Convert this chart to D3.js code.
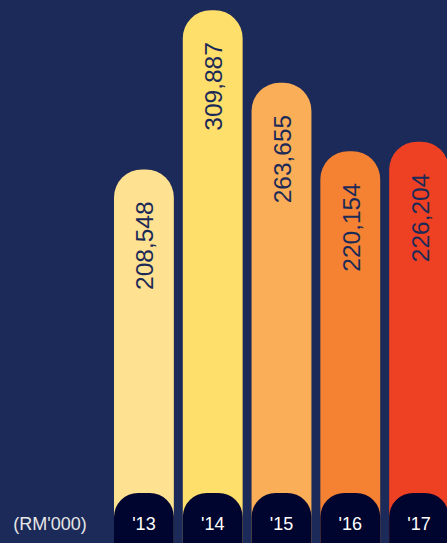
<!DOCTYPE html>
<html>
<head>
<meta charset="utf-8">
<script src="https://cdn.jsdelivr.net/npm/d3@7"></script>
<style>
  html, body { margin: 0; padding: 0; background: #1b2a58; }
  svg { display: block; }
</style>
</head>
<body>
<div id="chart"></div>
<script>
// chart data
var years = ["'13", "'14", "'15", "'16", "'17"];
var values = [208548, 309887, 263655, 220154, 226204];
var colors = ["#fee191", "#ffdf6b", "#fbae58", "#f58233", "#ee4123"];
var unitLabel = "(RM'000)";

var width = 447, height = 543;

var svg = d3.select("#chart").append("svg")
    .attr("width", width)
    .attr("height", height);

svg.append("rect").attr("width", width).attr("height", height).attr("fill", "#1b2a58");

var x = d3.scaleBand()
    .domain(years)
    .range([114, 449])
    .paddingInner(0.13)
    .paddingOuter(0);

var y = d3.scaleLinear()
    .domain([0, 310000])
    .range([497, 10]);

// bar with rounded top corners, running off the bottom of the picture
function topRounded(x0, y0, w, bottom, r) {
    return "M" + x0 + "," + bottom +
        "V" + (y0 + r) +
        "A" + r + "," + r + " 0 0 1 " + (x0 + r) + "," + y0 +
        "H" + (x0 + w - r) +
        "A" + r + "," + r + " 0 0 1 " + (x0 + w) + "," + (y0 + r) +
        "V" + bottom + "Z";
}

var bw = x.bandwidth();

var g = svg.selectAll(".bar").data(years).enter().append("g").attr("class", "bar");

g.append("path")
    .attr("d", function(d, i) { return topRounded(x(d), y(values[i]), bw, height + 5, 28); })
    .attr("fill", function(d, i) { return colors[i]; });

// value labels, reading bottom to top
g.append("text")
    .attr("transform", function(d, i) {
        return "translate(" + (x(d) + bw / 2 + 1) + "," + (y(values[i]) + 32) + ") rotate(-90)";
    })
    .attr("dominant-baseline", "central")
    .attr("text-anchor", "end")
    .style("font-family", "'Liberation Sans', Arial, sans-serif")
    .style("font-size", "24.5px")
    .attr("fill", "#1c2a57")
    .text(function(d, i) { return d3.format(",")(values[i]); });

// dark caps at the bottom
g.append("path")
    .attr("d", function(d) { return topRounded(x(d), 493, bw, height + 5, 24); })
    .attr("fill", "#000530");

g.append("text")
    .attr("x", function(d) { return x(d) + bw / 2; })
    .attr("y", 524)
    .attr("text-anchor", "middle")
    .attr("dominant-baseline", "central")
    .style("font-family", "'Liberation Sans', Arial, sans-serif")
    .style("font-size", "18px")
    .attr("fill", "#ffffff")
    .text(function(d) { return d; });

svg.append("text")
    .attr("x", 50)
    .attr("y", 524)
    .attr("text-anchor", "middle")
    .attr("dominant-baseline", "central")
    .style("font-family", "'Liberation Sans', Arial, sans-serif")
    .style("font-size", "18px")
    .attr("fill", "#e6e6e6")
    .text(unitLabel);
</script>
</body>
</html>
